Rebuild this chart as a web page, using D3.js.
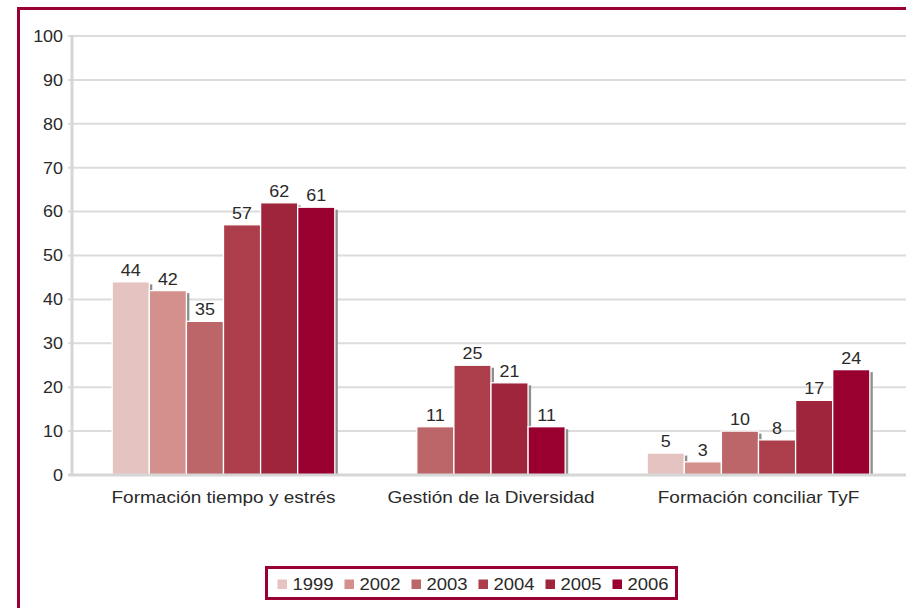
<!DOCTYPE html>
<html>
<head>
<meta charset="utf-8">
<script src="https://cdn.jsdelivr.net/npm/d3@7"></script>
<style>
  html, body { margin: 0; padding: 0; background: #fff; }
  svg { display: block; }
  text { font-family: "Liberation Sans", Arial, Helvetica, sans-serif; fill: #2a2a2a; }
</style>
</head>
<body>
<svg id="chart" width="906" height="608"></svg>
<script>
const categories = ["Formación tiempo y estrés", "Gestión de la Diversidad", "Formación conciliar TyF"];
const years = ["1999", "2002", "2003", "2004", "2005", "2006"];
const values1999 = [44, null, 5];
const values2002 = [42, null, 3];
const values2003 = [35, 11, 10];
const values2004 = [57, 25, 8];
const values2005 = [62, 21, 17];
const values2006 = [61, 11, 24];
const yTicks = [0, 10, 20, 30, 40, 50, 60, 70, 80, 90, 100];
const colors = ["#e5c3c0", "#d3908d", "#bd6669", "#ab3e4a", "#9e253c", "#990030"];

const seriesValues = [values1999, values2002, values2003, values2004, values2005, values2006];

const svg = d3.select("#chart");
const frameColor = "#9b0032";
const SX = 1.12;

// frame
svg.append("rect").attr("x", 18.5).attr("y", 8.5).attr("width", 1000).attr("height", 1000)
  .attr("fill", "none").attr("stroke", frameColor).attr("stroke-width", 3);

const y = d3.scaleLinear().domain([0, 100]).range([475, 36]);
const x = d3.scaleBand().domain(categories).range([89.75, 892.25]).padding(0);
const axisX = 72;

function stext(g, tx, ty, str, size, anchor) {
  return g.append("text")
    .attr("transform", `translate(${tx},${ty}) scale(${SX},1)`)
    .attr("text-anchor", anchor)
    .style("font-size", size + "px")
    .text(str);
}

// gridlines
const grid = svg.append("g");
grid.selectAll("line").data(yTicks.filter(t => t > 0)).join("line")
  .attr("x1", axisX - 4).attr("x2", 906)
  .attr("y1", d => y(d)).attr("y2", d => y(d))
  .attr("stroke", "#dcdcdc").attr("stroke-width", 2);

// y axis line
svg.append("line").attr("x1", axisX).attr("x2", axisX).attr("y1", y(100) - 1).attr("y2", y(0))
  .attr("stroke", "#d6d6d6").attr("stroke-width", 3);

// tick labels
const tl = svg.append("g");
yTicks.forEach(t => stext(tl, 63, y(t) + 5.8, String(t), 16, "end"));

// bars
const barsG = svg.append("g");
categories.forEach((cat, ci) => {
  const present = years.filter((yr, si) => seriesValues[si][ci] != null);
  const center = x(cat) + x.bandwidth() / 2;
  const step = x.bandwidth() * 0.1387;
  const inner = d3.scaleBand().domain(present)
    .range([center - present.length * step / 2, center + present.length * step / 2]).padding(0);
  present.forEach(yr => {
    const si = years.indexOf(yr);
    const v = seriesValues[si][ci];
    const bx = inner(yr), bw = inner.bandwidth();
    barsG.append("rect")
      .attr("x", bx + 3).attr("y", y(v) + 2.5)
      .attr("width", bw).attr("height", y(0) - y(v) - 2.5)
      .attr("fill", "#8f8f8f");
    barsG.append("rect")
      .attr("x", bx).attr("y", y(v))
      .attr("width", bw).attr("height", y(0) - y(v))
      .attr("fill", colors[si]).attr("stroke", "#fff").attr("stroke-width", 1.3);
  });
  present.forEach(yr => {
    const si = years.indexOf(yr);
    const v = seriesValues[si][ci];
    stext(barsG, inner(yr) + inner.bandwidth() / 2, y(v) - 6, String(v), 16, "middle");
  });
});

// zero baseline
svg.append("line").attr("x1", axisX - 4).attr("x2", 906).attr("y1", y(0)).attr("y2", y(0))
  .attr("stroke", "#d6d6d6").attr("stroke-width", 3);

// category labels
const cl = svg.append("g");
categories.forEach(c => stext(cl, x(c) + x.bandwidth() / 2, 502.5, c, 17, "middle"));

// legend
const lg = svg.append("g");
lg.append("rect").attr("x", 266.5).attr("y", 567.5).attr("width", 410).attr("height", 31)
  .attr("fill", "#fff").attr("stroke", frameColor).attr("stroke-width", 3);
years.forEach((yr, i) => {
  const lx = 280 + i * 67;
  lg.append("rect").attr("x", lx - 2.5).attr("y", 579.5).attr("width", 9.5).attr("height", 9.5)
    .attr("fill", colors[i]);
  stext(lg, lx + 12.5, 590, yr, 16.5, "start");
});
</script>
</body>
</html>
